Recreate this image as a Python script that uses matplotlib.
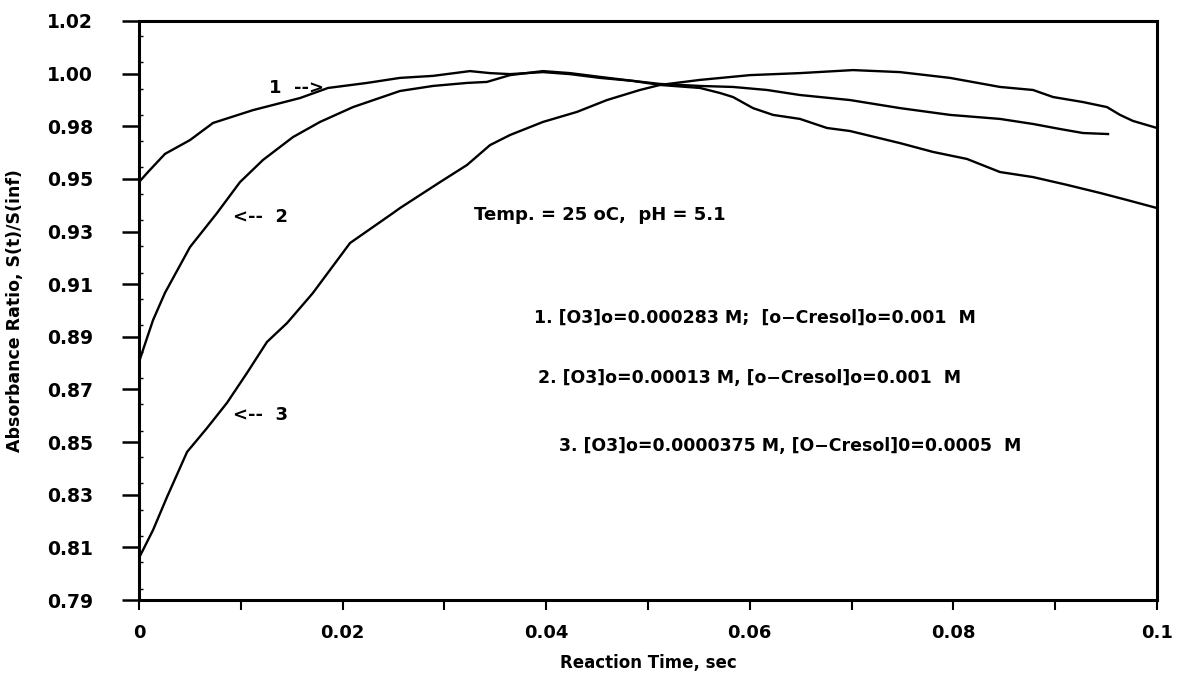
import numpy as np
import matplotlib.pyplot as plt
from matplotlib.ticker import MultipleLocator

# ---------------------------------------------------------------------------
# Data (reaction time in s, absorbance ratio)
# ---------------------------------------------------------------------------
t1 = [0.0, 0.00088, 0.00255, 0.00501, 0.00727, 0.0112, 0.01582, 0.01857,
      0.0224, 0.02564, 0.02888, 0.03251, 0.03448, 0.03644, 0.03968, 0.04234,
      0.04528, 0.04853, 0.05118, 0.05511, 0.05835, 0.06169, 0.06493, 0.06984,
      0.07475, 0.07967, 0.08458, 0.08782, 0.09047, 0.09273, 0.09519]
r1 = [0.9560, 0.9600, 0.9672, 0.9727, 0.9795, 0.9846, 0.9894, 0.9934,
      0.9954, 0.9974, 0.9982, 1.0001, 0.9993, 0.9989, 0.9997, 0.9989,
      0.9974, 0.9962, 0.9950, 0.9942, 0.9938, 0.9926, 0.9906, 0.9886,
      0.9854, 0.9827, 0.9811, 0.9791, 0.9771, 0.9755, 0.9751]

t2 = [0.0, 0.00039, 0.00138, 0.00255, 0.00501, 0.00766, 0.00992, 0.01218,
      0.01513, 0.01778, 0.02102, 0.02564, 0.02888, 0.03222, 0.03418, 0.03644,
      0.03968, 0.04234, 0.04528, 0.04853, 0.05118, 0.05511, 0.05707, 0.05835,
      0.06031, 0.06228, 0.06493, 0.06758, 0.06984, 0.07475, 0.07799, 0.08133,
      0.08458, 0.08782, 0.09116, 0.0944, 0.09705, 0.1]
r2 = [0.8845, 0.8893, 0.9012, 0.9120, 0.9302, 0.9437, 0.9560, 0.9648,
      0.9739, 0.9799, 0.9858, 0.9922, 0.9942, 0.9954, 0.9958, 0.9985,
      1.0001, 0.9993, 0.9978, 0.9962, 0.9946, 0.9934, 0.9914, 0.9898,
      0.9854, 0.9827, 0.9811, 0.9775, 0.9763, 0.9715, 0.9680, 0.9652,
      0.9600, 0.9580, 0.9549, 0.9517, 0.9489, 0.9457]

t3 = [0.0, 0.00138, 0.00275, 0.00472, 0.00668, 0.00864, 0.01061, 0.01257,
      0.01454, 0.0165, 0.01709, 0.02073, 0.02495, 0.02564, 0.02957, 0.03222,
      0.03448, 0.03644, 0.03968, 0.04303, 0.04597, 0.04921, 0.05118, 0.05511,
      0.06002, 0.06493, 0.07014, 0.07475, 0.07967, 0.08458, 0.08782, 0.08979,
      0.09273, 0.09509, 0.09637, 0.09764, 0.1]
r3 = [0.8067, 0.8178, 0.8309, 0.8488, 0.8583, 0.8683, 0.8802, 0.8925,
      0.9000, 0.9092, 0.9120, 0.9318, 0.9437, 0.9457, 0.9560, 0.9628,
      0.9707, 0.9747, 0.9799, 0.9839, 0.9886, 0.9926, 0.9946, 0.9966,
      0.9985, 0.9993, 1.0005, 0.9997, 0.9974, 0.9938, 0.9926, 0.9898,
      0.9878, 0.9858, 0.9827, 0.9803, 0.9775]

# y tick labels as printed on the original (evenly spaced over 0.79 .. 1.02)
ytick_labels = ['0.79', '0.81', '0.83', '0.85', '0.87', '0.89',
                '0.91', '0.93', '0.95', '0.98', '1.00', '1.02']
xtick_labels = ['0', '', '0.02', '', '0.04', '', '0.06', '', '0.08', '', '0.1']

legend_lines = ['1. [O3]o=0.000283 M;  [o\u2212Cresol]o=0.001  M',
                '2. [O3]o=0.00013 M, [o\u2212Cresol]o=0.001  M',
                '3. [O3]o=0.0000375 M, [O\u2212Cresol]0=0.0005  M']

# ---------------------------------------------------------------------------
# Plot
# ---------------------------------------------------------------------------
plt.rcParams['font.family'] = ['DejaVu Sans']
plt.rcParams['font.weight'] = 'bold'

fig = plt.figure(figsize=(11.77, 6.73), dpi=100)
ax = fig.add_axes([139 / 1177, 1 - 600 / 673, 1018 / 1177, 579 / 673])

for t, r in [(t1, r1), (t2, r2), (t3, r3)]:
    ax.plot(t, r, color='black', linewidth=1.7)

ax.set_xlim(0, 0.1)
ax.set_ylim(0.79, 1.02)

ax.set_yticks(np.linspace(0.79, 1.02, 12))
ax.set_yticklabels(ytick_labels)
ax.yaxis.set_minor_locator(MultipleLocator(0.23 / 22))
ax.set_xticks(np.linspace(0, 0.1, 11))
ax.set_xticklabels(xtick_labels)

ax.tick_params(axis='y', which='major', direction='out', length=12, width=1.8,
               pad=21, labelsize=13.5)
ax.tick_params(axis='y', which='minor', direction='in', length=3, width=1)
ax.tick_params(axis='x', which='major', direction='out', length=7, width=1.5,
               pad=10, labelsize=13)

for side in ['left', 'right', 'top', 'bottom']:
    ax.spines[side].set_linewidth(2.2)

ax.set_xlabel('Reaction Time, sec', fontsize=12, fontweight='bold')
ax.xaxis.set_label_coords(0.5, -0.093)
ax.set_ylabel('Absorbance Ratio, S(t)/S(inf)', fontsize=12.5,
              fontweight='bold')
ax.yaxis.set_label_coords(-0.113, 0.5)

# curve labels
ax.text(0.0182, 0.9934, '1  -->', fontsize=13, va='center', ha='right')
ax.text(0.0092, 0.9421, '<--  2', fontsize=13, va='center', ha='left')
ax.text(0.0092, 0.8635, '<--  3', fontsize=13, va='center', ha='left')

ax.text(0.0453, 0.9429, 'Temp. = 25 oC,  pH = 5.1', fontsize=13,
        va='center', ha='center')
ax.text(0.0605, 0.9020, legend_lines[0], fontsize=12.5, va='center',
        ha='center')
ax.text(0.0600, 0.8782, legend_lines[1], fontsize=12.5, va='center',
        ha='center')
ax.text(0.0640, 0.8512, legend_lines[2], fontsize=12.5, va='center',
        ha='center')

plt.savefig('out.png', dpi=100)
